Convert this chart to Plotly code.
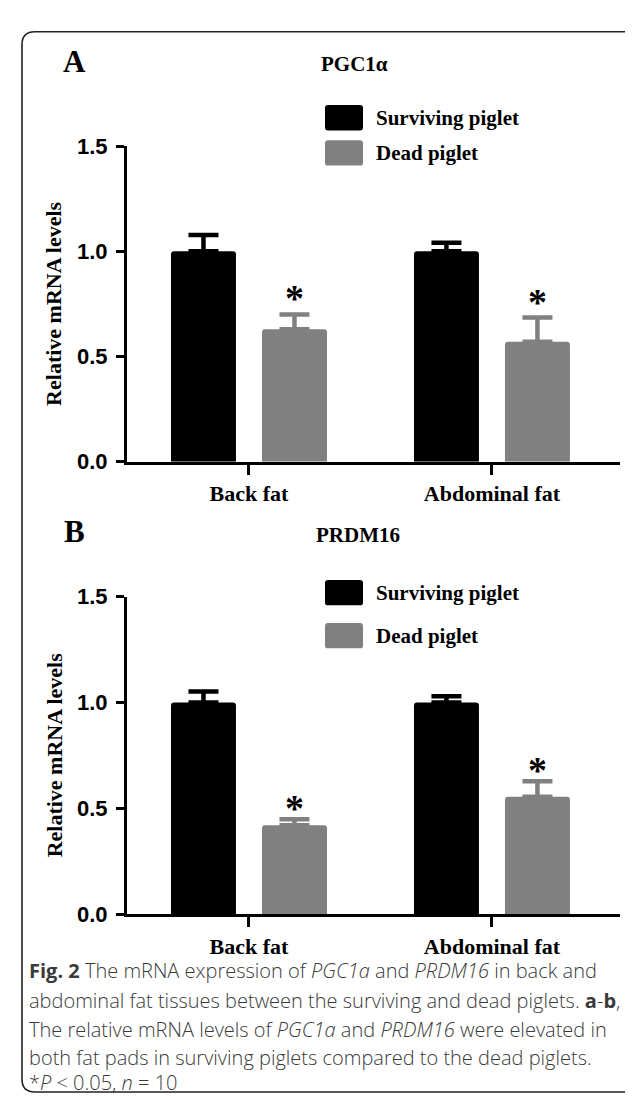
import plotly.graph_objects as go

# ---------------- data ----------------
categories = ["Back fat", "Abdominal fat"]
series_names = ["Surviving piglet", "Dead piglet"]
series_colors = ["#000000", "#808080"]
panel_letters = ["A", "B"]
panel_titles = ["PGC1α", "PRDM16"]
y_tick_values = [0.0, 0.5, 1.0, 1.5]
y_tick_labels = ["0.0", "0.5", "1.0", "1.5"]
y_axis_title = "Relative mRNA levels"

pgc1a_surviving = [1.0, 1.0]
pgc1a_surviving_sem = [0.077, 0.04]
pgc1a_dead = [0.63, 0.57]
pgc1a_dead_sem = [0.07, 0.115]

prdm16_surviving = [1.0, 1.0]
prdm16_surviving_sem = [0.052, 0.029]
prdm16_dead = [0.42, 0.554]
prdm16_dead_sem = [0.028, 0.074]

significance_mark = "*"
dead_significant = [True, True]

caption_lines = [
    "<b>Fig. 2</b> The mRNA expression of <i>PGC1a</i> and <i>PRDM16</i> in back and",
    "abdominal fat tissues between the surviving and dead piglets. <b>a</b>-<b>b</b>,",
    "The relative mRNA levels of <i>PGC1a</i> and <i>PRDM16</i> were elevated in",
    "both fat pads in surviving piglets compared to the dead piglets.",
    "*<i>P</i> &lt; 0.05, <i>n</i> = 10",
]

# ---------------- layout helpers ----------------
W, H = 633, 1098


def px(x):
    return x / W


def py(y):
    return 1 - y / H


SERIF = "Liberation Serif, Times New Roman, serif"
SANS = "Liberation Sans, Arial, sans-serif"

panels = [
    dict(surv=pgc1a_surviving, surv_err=pgc1a_surviving_sem,
         dead=pgc1a_dead, dead_err=pgc1a_dead_sem,
         top=129, bottom=452, letter_xy=(66, 42), title_xy=(346, 45),
         legend_y=[100, 136], star_shift=22),
    dict(surv=prdm16_surviving, surv_err=prdm16_surviving_sem,
         dead=prdm16_dead, dead_err=prdm16_dead_sem,
         top=590, bottom=915, letter_xy=(66, 523), title_xy=(350, 527),
         legend_y=[586, 630], star_shift=17),
]

axis_left, axis_right = 119, 612
x_range = [-0.502, 1.527]

fig = go.Figure()
annotations = []
shapes = []

for i, p in enumerate(panels):
    xa = "x" if i == 0 else "x2"
    ya = "y" if i == 0 else "y2"
    values = [p["surv"], p["dead"]]
    errs = [p["surv_err"], p["dead_err"]]
    for s in range(2):
        fig.add_trace(go.Bar(
            x=categories, y=values[s], name=series_names[s],
            marker=dict(color=series_colors[s], line=dict(width=0), cornerradius=3),
            error_y=dict(type="data", symmetric=False, array=errs[s],
                         arrayminus=[0] * len(categories),
                         color=series_colors[s], thickness=4.5, width=15),
            xaxis=xa, yaxis=ya, showlegend=False, offsetgroup=str(s),
        ))
    # significance stars above dead-piglet error bars
    for c, cat in enumerate(categories):
        if dead_significant[c]:
            annotations.append(dict(
                x=c + 0.187, y=p["dead"][c] + p["dead_err"][c],
                xref=xa, yref=ya, text=significance_mark, showarrow=False,
                yanchor="middle", yshift=p["star_shift"] - 6,
                font=dict(family=SERIF, size=38, color="#000000", weight="bold"),
            ))
    # panel letter and title
    annotations.append(dict(x=px(p["letter_xy"][0]), y=py(p["letter_xy"][1]),
                            xref="paper", yref="paper", text=panel_letters[i],
                            showarrow=False, xanchor="center", yanchor="middle",
                            font=dict(family=SERIF, size=31, color="#000", weight="bold")))
    annotations.append(dict(x=px(p["title_xy"][0]), y=py(p["title_xy"][1]),
                            xref="paper", yref="paper", text=panel_titles[i],
                            showarrow=False, xanchor="center", yanchor="middle",
                            font=dict(family=SERIF, size=21, color="#000", weight="bold")))
    # y-axis title
    annotations.append(dict(x=px(46), y=py((p["top"] + p["bottom"]) / 2),
                            xref="paper", yref="paper", text=y_axis_title,
                            textangle=-90, showarrow=False, xanchor="center", yanchor="middle",
                            font=dict(family=SERIF, size=22, color="#000", weight="bold")))
    # custom legend
    for s in range(2):
        cy = p["legend_y"][s]
        x0, x1, y0, y1 = 317, 355, cy - 13, cy + 13
        r = 3
        path = (f"M {px(x0 + r)},{py(y0)} L {px(x1 - r)},{py(y0)} Q {px(x1)},{py(y0)} {px(x1)},{py(y0 + r)} "
                f"L {px(x1)},{py(y1 - r)} Q {px(x1)},{py(y1)} {px(x1 - r)},{py(y1)} "
                f"L {px(x0 + r)},{py(y1)} Q {px(x0)},{py(y1)} {px(x0)},{py(y1 - r)} "
                f"L {px(x0)},{py(y0 + r)} Q {px(x0)},{py(y0)} {px(x0 + r)},{py(y0)} Z")
        shapes.append(dict(type="path", path=path, xref="paper", yref="paper",
                           fillcolor=series_colors[s], line=dict(width=0)))
        annotations.append(dict(x=px(366), y=py(cy), xref="paper", yref="paper",
                                text=series_names[s], showarrow=False,
                                xanchor="left", yanchor="middle",
                                font=dict(family=SERIF, size=21, color="#000", weight="bold")))

# caption
caption_y = [973, 1003, 1033, 1062, 1087]
for line, yy in zip(caption_lines, caption_y):
    annotations.append(dict(x=px(19), y=py(yy), xref="paper", yref="paper",
                            text=line, showarrow=False, xanchor="left", yanchor="middle",
                            font=dict(family="Open Sans, Noto Sans, sans-serif", size=20,
                                      color="#3a3a3a", weight=300)))

# frame with rounded left corners
fl, ft, fb, fr, rr = 14, 12, 1097, 660, 13
frame = (f"M {px(fr)},{py(ft)} L {px(fl + rr)},{py(ft)} Q {px(fl)},{py(ft)} {px(fl)},{py(ft + rr)} "
         f"L {px(fl)},{py(fb - rr)} Q {px(fl)},{py(fb)} {px(fl + rr)},{py(fb)} L {px(fr)},{py(fb)}")
shapes.append(dict(type="path", path=frame, xref="paper", yref="paper",
                   line=dict(color="#222222", width=1.6)))

xaxis_style = dict(type="category", range=x_range, showline=True, linewidth=3,
                   linecolor="#000", ticks="outside", ticklen=10, tickwidth=3,
                   tickcolor="#000", showgrid=False, zeroline=False,
                   tickfont=dict(family=SERIF, size=22, color="#000", weight="bold"))
yaxis_style = dict(range=[0, 1.5], tickvals=y_tick_values, ticktext=y_tick_labels,
                   showline=True, linewidth=3, linecolor="#000", ticks="outside",
                   ticklen=8, tickwidth=3, tickcolor="#000", showgrid=False,
                   zeroline=False, ticklabelstandoff=4,
                   tickfont=dict(family=SANS, size=22, color="#000", weight="bold"))

fig.update_layout(
    width=W, height=H, margin=dict(l=0, r=0, t=0, b=0),
    paper_bgcolor="white", plot_bgcolor="white",
    barmode="group", bargap=0.251, bargroupgap=0.286,
    xaxis=dict(domain=[px(axis_left), px(axis_right)], anchor="y", **xaxis_style),
    yaxis=dict(domain=[py(panels[0]["bottom"]), py(panels[0]["top"])], anchor="x", **yaxis_style),
    xaxis2=dict(domain=[px(axis_left), px(axis_right)], anchor="y2", **xaxis_style),
    yaxis2=dict(domain=[py(panels[1]["bottom"]), py(panels[1]["top"])], anchor="x2", **yaxis_style),
    annotations=annotations, shapes=shapes, showlegend=False,
)

fig.write_html("out.html")
